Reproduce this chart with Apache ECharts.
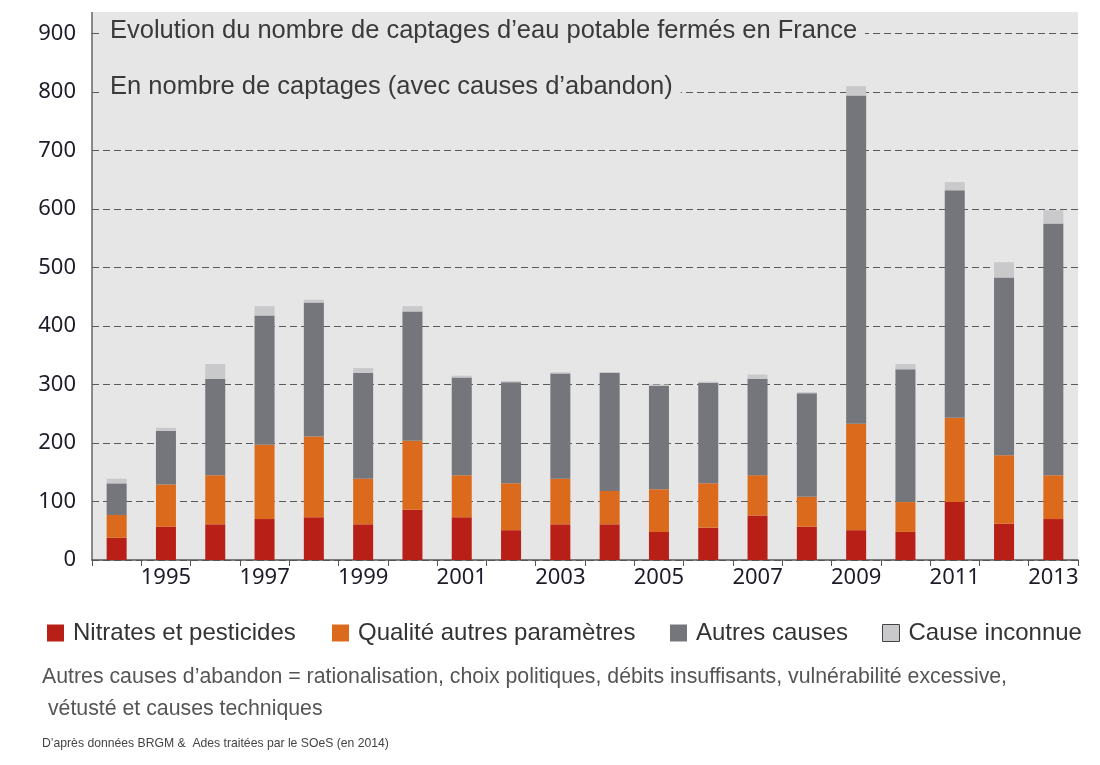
<!DOCTYPE html>
<html><head><meta charset="utf-8">
<script src="https://cdn.jsdelivr.net/npm/echarts@6/dist/echarts.min.js"></script>
<style>html,body{margin:0;padding:0;background:#fff}#c{width:1100px;height:765px}</style>
</head><body><div id="c"></div>
<script>
const years = ['1994','1995','1996','1997','1998','1999','2000','2001','2002','2003','2004','2005','2006','2007','2008','2009','2010','2011','2012','2013'];
const nitrates = [38,57,61,70,73,61,86,73,51,61,61,48,55,76,57,51,48,99,62,70];
const qualite  = [39,72,84,127,138,78,118,72,80,78,57,73,76,69,51,182,51,144,117,75];
const autres   = [54,92,165,221,229,181,221,167,173,180,202,177,172,165,177,561,227,389,304,430];
const inconnue = [8,5,25,16,5,8,9,3,2,2,1,2,2,7,2,16,9,14,26,23];
const yTicks = [0,100,200,300,400,500,600,700,800,900];
const seriesNames = ['Nitrates et pesticides','Qualité autres paramètres','Autres causes','Cause inconnue'];
const titleText = 'Evolution du nombre de captages d\u2019eau potable fermés en France';
const subtitleText = 'En nombre de captages (avec causes d\u2019abandon)';
const noteLine1 = 'Autres causes d\u2019abandon = rationalisation, choix politiques, débits insuffisants, vulnérabilité excessive,';
const noteLine2 = ' vétusté et causes techniques';
const sourceText = 'D\u2019après données BRGM &  Ades traitées par le SOeS (en 2014)';

const colors = ['#b81f17','#dc6a1c','#75767b','#c9c9cb'];
const sans = '"Liberation Sans", Arial, sans-serif';
const BG = '#e6e6e6';

const chart = echarts.init(document.getElementById('c'));
const dataArr = [nitrates, qualite, autres, inconnue];
const legendLefts = [42, 327, 665, 877];

chart.setOption({
  animation: false,
  backgroundColor: '#ffffff',
  grid: {left: 92, right: 22, top: 33.5, bottom: 205, show: true, backgroundColor: BG, borderWidth: 0},
  title: [
    {text: titleText, left: 102, top: 15, padding: [0, 8],
     backgroundColor: BG,
     textStyle: {fontFamily: sans, fontSize: 25.5, fontWeight: 'normal', color: '#3a3a3a', lineHeight: 32}},
    {text: subtitleText, left: 102, top: 71, padding: [0, 8],
     backgroundColor: BG,
     textStyle: {fontFamily: sans, fontSize: 25.5, fontWeight: 'normal', color: '#3a3a3a', lineHeight: 32}}
  ],
  legend: seriesNames.map((n, i) => ({
    data: [i === 3 ? {name: n, itemStyle: {color: colors[3], borderColor: '#444', borderWidth: 1}} : n],
    left: legendLefts[i], top: 616, icon: 'rect', itemWidth: 17, itemHeight: 17, itemGap: 10,
    textStyle: {fontFamily: sans, fontSize: 24, color: '#333', padding: [0, 0, 0, 4]}
  })),
  xAxis: {
    type: 'category', data: years, boundaryGap: true,
    axisLine: {show: true, lineStyle: {color: '#555', width: 1.5}},
    axisTick: {show: true, interval: 0, length: 6, lineStyle: {color: '#555'}},
    axisLabel: {interval: (i) => i % 2 === 1, fontFamily: '"Noto Sans", sans-serif', fontSize: 22, color: '#1c1c28', margin: 7}
  },
  yAxis: {
    type: 'value', min: 0, max: 900, interval: 100,
    axisLine: {show: true, lineStyle: {color: '#666', width: 1.5}},
    axisTick: {show: false},
    axisLabel: {fontFamily: '"Noto Sans", sans-serif', fontSize: 22, color: '#1c1c28', margin: 16,
      formatter: (v) => yTicks.includes(v) ? String(v) : ''},
    splitLine: {show: true, lineStyle: {color: '#5a5a5a', width: 1.2, type: [7, 4]}}
  },
  graphic: [
    {type: 'rect', z: -10, shape: {x: 92, y: 12, width: 986, height: 22}, style: {fill: BG}, silent: true},
    {type: 'line', z: 10, shape: {x1: 92, y1: 12, x2: 92, y2: 34}, style: {stroke: '#666', lineWidth: 1.5}, silent: true},
    {type: 'text', left: 42, top: 667, style: {text: noteLine1, font: '21.3px ' + sans, fill: '#555'}},
    {type: 'text', left: 42, top: 699, style: {text: noteLine2, font: '21.3px ' + sans, fill: '#555'}},
    {type: 'text', left: 42, top: 738, style: {text: sourceText, font: '12.2px ' + sans, fill: '#444'}}
  ],
  series: seriesNames.map((n, i) => ({
    name: n, type: 'bar', stack: 'total', barWidth: 20,
    itemStyle: {color: colors[i]},
    data: dataArr[i]
  }))
});
</script></body></html>
